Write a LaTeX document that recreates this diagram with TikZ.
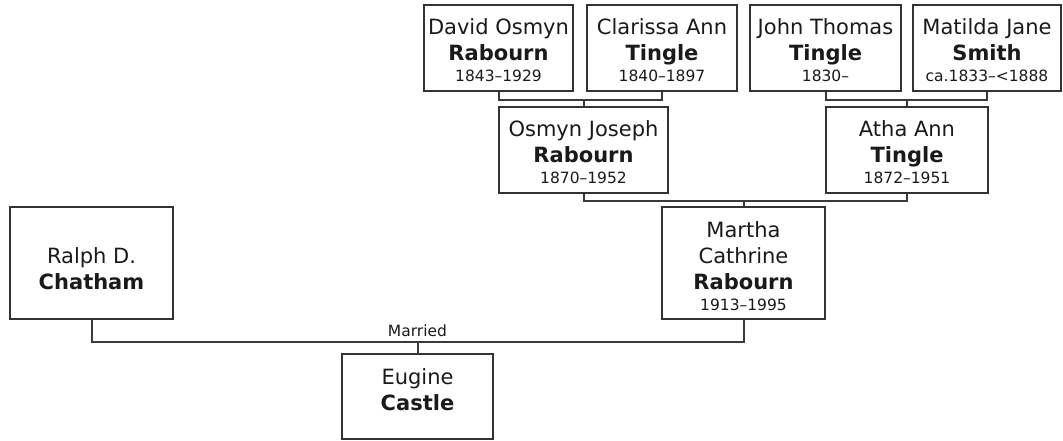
\documentclass[tikz,border=0pt]{standalone}
\usepackage{fontspec}
\setmainfont{DejaVu Sans}
\usepackage{tikz}
\usetikzlibrary{calc,positioning}
\definecolor{TreeInk}{HTML}{1A1A1A}
\definecolor{TreeEdge}{HTML}{333333}
\definecolor{TreeLink}{HTML}{3A3A3A}
\newcommand{\yrs}[1]{\\[-5pt]{\fontsize{15.5}{18}\selectfont #1}}
% fixed-size card, text hung from the top
\newcommand{\card}[3]{\parbox[c][#2][t]{#1}{\centering\rule{0pt}{30pt}#3}}

\begin{document}
\begin{tikzpicture}[x=1pt, y=-1pt,
    every node/.style={font=\fontsize{21}{26}\selectfont, text=TreeInk},
    person/.style={draw=TreeEdge, line width=1.6pt, fill=white, inner sep=0pt},
    link/.style={draw=TreeLink, line width=2pt}]
    \useasboundingbox (0,0) rectangle (1063,441);

    % great-grandparents
    \node[person] (dos) at (498.5,48) {\card{149pt}{86pt}{David Osmyn\\\textbf{Rabourn}\yrs{1843--1929}}};
    \node[person] (cat) at (662,48) {\card{150pt}{86pt}{Clarissa Ann\\\textbf{Tingle}\yrs{1840--1897}}};
    \node[person] (jtt) at (825.5,48) {\card{151pt}{86pt}{John Thomas\\\textbf{Tingle}\yrs{1830--}}};
    \node[person] (mjs) at (987,48) {\card{148pt}{86pt}{Matilda Jane\\\textbf{Smith}\yrs{ca.1833--<1888}}};

    % grandparents
    \node[person] (ojr) at (583.5,150) {\card{169pt}{86pt}{Osmyn Joseph\\\textbf{Rabourn}\yrs{1870--1952}}};
    \node[person] (aat) at (907,150) {\card{162pt}{86pt}{Atha Ann\\\textbf{Tingle}\yrs{1872--1951}}};

    % parents
    \node[person] (mcr) at (743.5,263) {\card{163pt}{112pt}{Martha\\Cathrine\\\textbf{Rabourn}\yrs{1913--1995}}};
    \node[person] (rdc) at (91.5,263) {\card{163pt}{112pt}{\\Ralph D.\\\textbf{Chatham}}};

    % child
    \node[person] (ec) at (417.5,396.5) {\card{151pt}{85pt}{Eugine\\\textbf{Castle}}};

    \draw[link] (dos.south) -- ++(0,8) coordinate (ja) -| (cat.south);
    \draw[link] (ojr.north) -- (ojr.north |- ja);
    \draw[link] (jtt.south) -- ++(0,8) coordinate (jb) -| (mjs.south);
    \draw[link] (aat.north) -- (aat.north |- jb);
    \draw[link] (ojr.south) -- ++(0,7) coordinate (jc) -| (aat.south);
    \draw[link] (mcr.north) -- (mcr.north |- jc);
    \draw[link] (rdc.south) -- ++(0,22) coordinate (jd) -| (mcr.south);
    \draw[link] (ec.north) -- (ec.north |- jd) node[above=1pt, font=\fontsize{15.5}{18}\selectfont] (wed) {Married};
\end{tikzpicture}
\end{document}
